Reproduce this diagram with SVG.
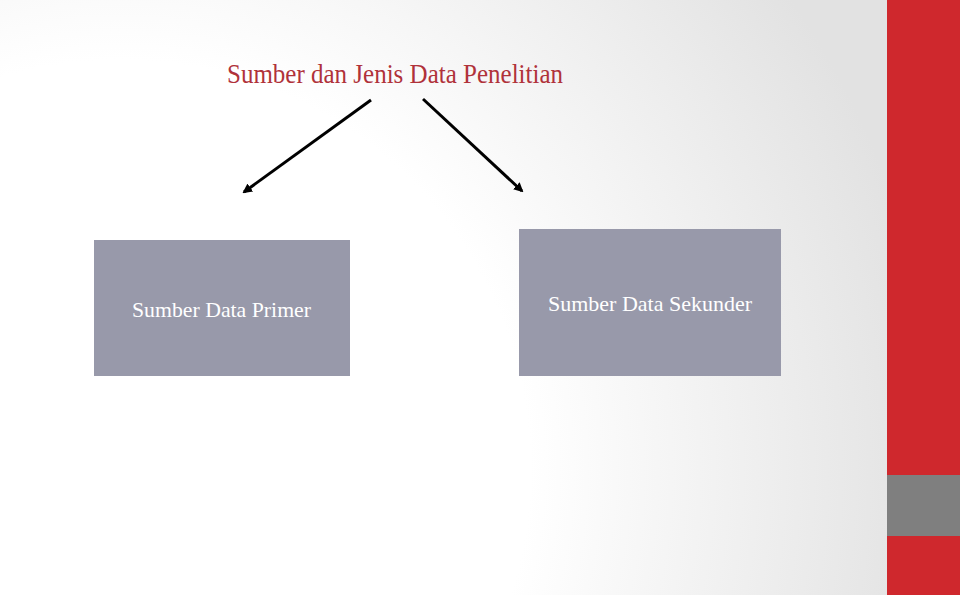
<svg xmlns="http://www.w3.org/2000/svg" width="960" height="595" viewBox="0 0 960 595">
<defs>
<radialGradient id="bg" cx="120" cy="470" r="820" gradientUnits="userSpaceOnUse">
<stop offset="0.5" stop-color="#ffffff"/>
<stop offset="1" stop-color="#e2e2e2"/>
</radialGradient>
<marker id="ah" viewBox="0 0 10 10" refX="8" refY="5" markerWidth="3.2" markerHeight="3.2" orient="auto">
<path d="M0,0 L10,5 L0,10 z" fill="#000"/>
</marker>
<style>
.box{fill:#9899aa}
.lbl{font-family:"Liberation Serif","Times New Roman",serif;font-size:22px;fill:#ffffff}
.title{font-family:"Liberation Serif","Times New Roman",serif;font-size:28px;fill:#b0323a}
.arr{stroke:#000;stroke-width:3;fill:none;marker-end:url(#ah)}
</style>
</defs>
<rect width="960" height="595" fill="url(#bg)"/>
<rect x="887" y="0" width="73" height="595" fill="#cf282d"/>
<rect x="887" y="475" width="73" height="61" fill="#7f7f7f"/>
<g id="title"><text class="title" x="227" y="83" textLength="336" lengthAdjust="spacingAndGlyphs">Sumber dan Jenis Data Penelitian</text></g>
<g id="connectors">
<line class="arr" x1="371" y1="100" x2="244" y2="192"/>
<line class="arr" x1="423" y1="99" x2="522" y2="191"/>
</g>
<g id="primer">
<rect class="box" x="94" y="240" width="256" height="136"/>
<text class="lbl" x="132" y="317" textLength="179" lengthAdjust="spacingAndGlyphs">Sumber Data Primer</text>
</g>
<g id="sekunder">
<rect class="box" x="519" y="229" width="262" height="147"/>
<text class="lbl" x="548" y="311" textLength="204" lengthAdjust="spacingAndGlyphs">Sumber Data Sekunder</text>
</g>
</svg>
